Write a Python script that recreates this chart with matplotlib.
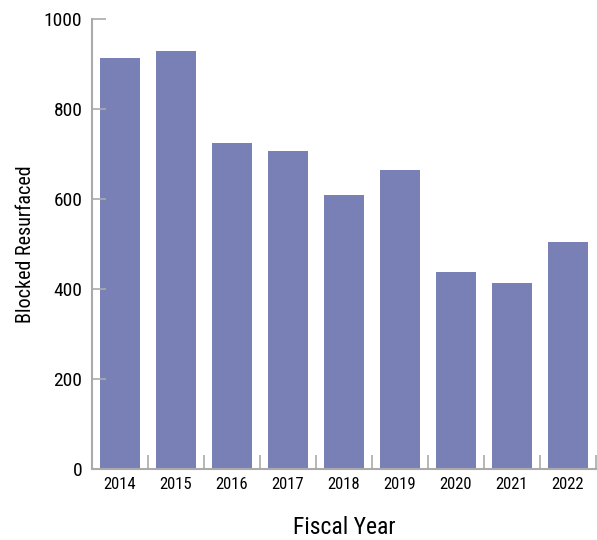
import matplotlib
matplotlib.use("Agg")
import matplotlib.pyplot as plt
from matplotlib import font_manager
import numpy as np

years = ["2014", "2015", "2016", "2017", "2018", "2019", "2020", "2021", "2022"]
blocked = [913, 929, 724, 707, 609, 664, 438, 413, 504]
yticks = [0, 200, 400, 600, 800, 1000]

names = {f.name for f in font_manager.fontManager.ttflist}
fam = "Roboto Condensed" if "Roboto Condensed" in names else "DejaVu Sans"
plt.rcParams['font.family'] = [fam, 'DejaVu Sans']

fig = plt.figure(figsize=(5.97, 5.40), dpi=100)
ax = fig.add_axes([92/597, 71/540, 504/597, 450/540])

x = np.arange(len(years))
ax.bar(x, blocked, width=0.73, color="#7980b5")
ax.set_xlim(-0.5, len(years) - 0.5)
ax.set_ylim(0, 1000)

ax.set_yticks(yticks)
ax.set_yticklabels([str(v) for v in yticks], fontsize=14)
ax.set_xticks(x)
ax.set_xticklabels(years, fontsize=12)
ax.tick_params(axis='x', length=0, pad=6)
ax.set_xticks(np.arange(len(years) + 1) - 0.5, minor=True)
ax.tick_params(axis='x', which='minor', direction='in', length=10, color="#aaaaaa", width=1.2)
ax.tick_params(axis='y', direction='in', length=10, color="#aaaaaa", width=1.2, pad=7)

for s in ['top', 'right']:
    ax.spines[s].set_visible(False)
for s in ['left', 'bottom']:
    ax.spines[s].set_color("#aaaaaa")
    ax.spines[s].set_linewidth(1.5)

ax.set_xlabel("Fiscal Year", fontsize=17, labelpad=17)
ax.set_ylabel("Blocked Resurfaced", fontsize=14.5, labelpad=6)

fig.savefig("out.png", dpi=100)
